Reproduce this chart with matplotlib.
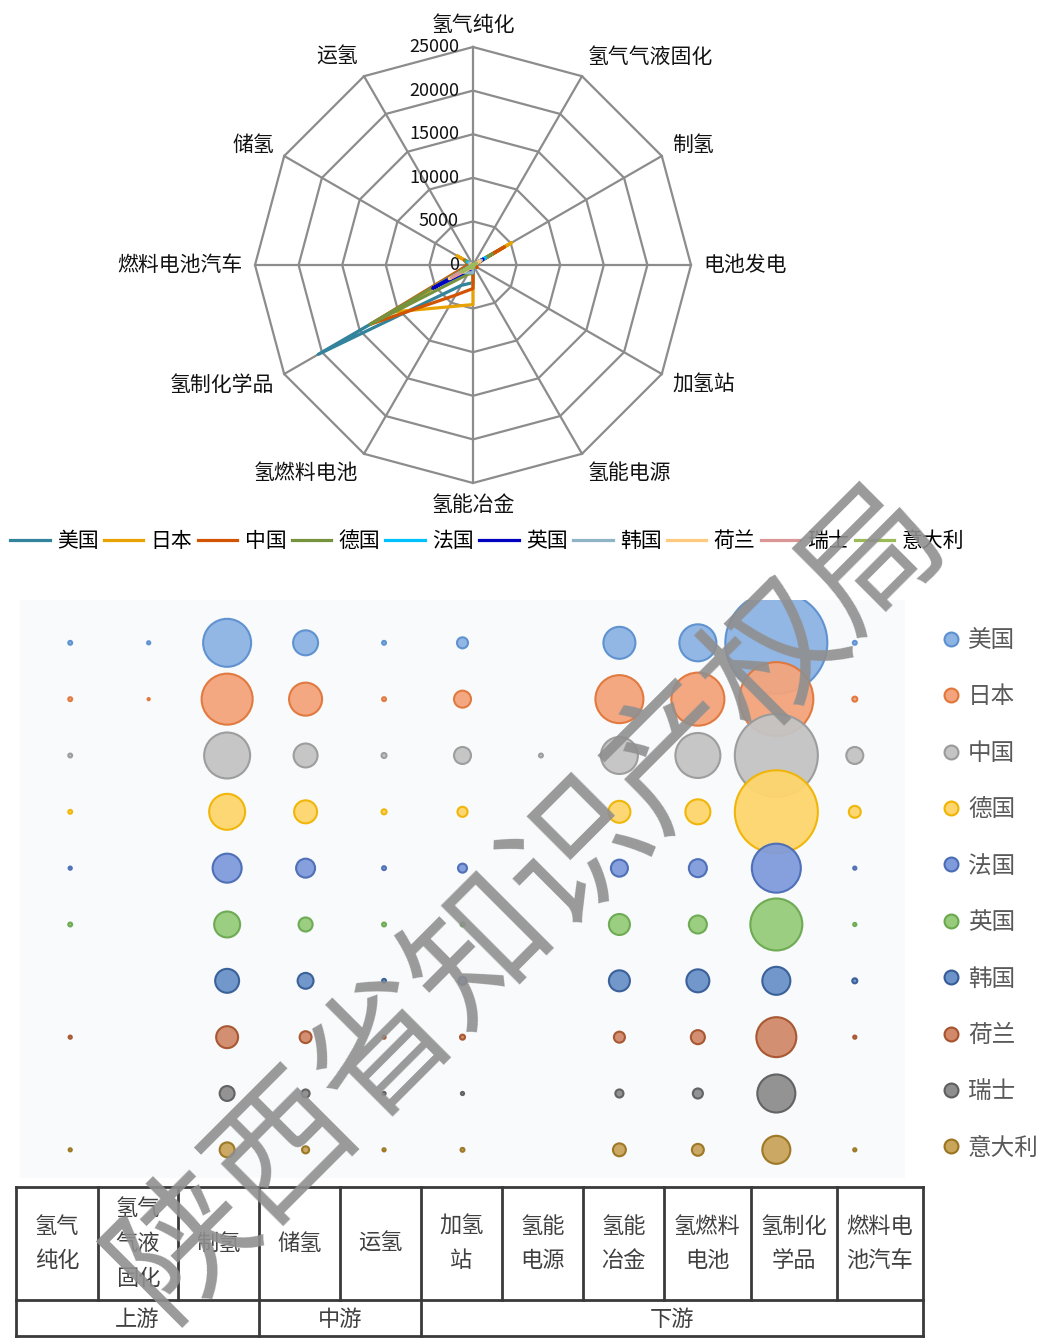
import numpy as np
import matplotlib
matplotlib.use("Agg")
import matplotlib.pyplot as plt
from matplotlib.lines import Line2D

plt.rcParams['font.family'] = ['Noto Sans CJK SC', 'DejaVu Sans']

# 雷达图的 12 个环节（顺时针，从正上方开始）
radar_cats = ["氢气纯化", "氢气气液固化", "制氢", "电池发电", "加氢站", "氢能电源",
              "氢能冶金", "氢燃料电池", "氢制化学品", "燃料电池汽车", "储氢", "运氢"]
# 气泡图 / 表格的 11 个环节
bubble_cats = ["氢气纯化", "氢气气液固化", "制氢", "储氢", "运氢", "加氢站",
               "氢能电源", "氢能冶金", "氢燃料电池", "氢制化学品", "燃料电池汽车"]

countries = ["美国", "日本", "中国", "德国", "法国", "英国", "韩国", "荷兰", "瑞士", "意大利"]

# 各国专利数量，按 radar_cats 顺序
us = [30, 20, 4540, 120, 240, 0, 2020, 2700, 20500, 30, 1230, 30]
jp = [30, 10, 5130, 150, 570, 0, 4540, 5540, 10790, 50, 2150, 30]
cn = [30, 0, 4170, 200, 570, 30, 2700, 3990, 13580, 570, 1130, 50]
de = [30, 0, 2550, 80, 200, 0, 950, 1230, 13580, 280, 1040, 50]
fr = [20, 0, 1660, 40, 160, 0, 570, 640, 4730, 20, 710, 30]
gb = [30, 0, 1330, 40, 30, 0, 870, 640, 5330, 20, 390, 30]
kr = [0, 0, 1130, 60, 130, 0, 870, 1040, 1550, 50, 500, 30]
nl = [20, 0, 950, 20, 50, 0, 240, 390, 3150, 20, 280, 20]
ch = [0, 0, 440, 20, 20, 0, 130, 200, 2850, 0, 130, 20]
it = [20, 0, 440, 20, 30, 0, 330, 280, 1550, 20, 100, 20]
series = [us, jp, cn, de, fr, gb, kr, nl, ch, it]

line_colors = ["#31849B", "#E8A202", "#D35400", "#76923C", "#00C0FF",
               "#0000C0", "#8FB4C6", "#FFC97F", "#D99694", "#9BBB59"]
bub_face = ["#8EB4E3", "#F4A47C", "#C4C4C4", "#FFD56E", "#7F9BDB",
            "#96CC7A", "#6B92C9", "#D18969", "#8E8E8E", "#C9A55C"]
bub_edge = ["#5B8FCF", "#E0763A", "#9A9A9A", "#F0B400", "#4A6BB5",
            "#6AA84F", "#355C96", "#A5532C", "#5E5E5E", "#9A7420"]

W, H = 1043, 1338
fig = plt.figure(figsize=(W / 100, H / 100), dpi=100)

# ---------------- 雷达图 ----------------
ax = fig.add_axes([255 / W, 1 - 483 / H, 436 / W, 436 / H], projection='polar')
ax.set_theta_zero_location('N')
ax.set_theta_direction(-1)
ax.set_ylim(0, 25000)
ax.grid(False)
ax.spines['polar'].set_visible(False)
ax.set_xticks([])
ax.set_yticks([])
ax.patch.set_alpha(0)

n = len(radar_cats)
angles = np.arange(n) * 2 * np.pi / n
closed = np.append(angles, angles[0])
levels = [5000, 10000, 15000, 20000, 25000]
for lv in levels:
    ax.plot(closed, [lv] * (n + 1), color="#8C8C8C", lw=1.6, zorder=1, clip_on=False)
for a in angles:
    ax.plot([a, a], [0, 25000], color="#8C8C8C", lw=1.6, zorder=1, clip_on=False)
for lv in [0] + levels:
    ax.annotate(str(lv), xy=(0, lv), xytext=(-14, 0), textcoords='offset pixels',
                ha='right', va='center', fontsize=13, color="#111111")
for a, lab in zip(angles, radar_cats):
    s, c = np.sin(a), np.cos(a)
    ha = 'left' if s > 0.01 else ('right' if s < -0.01 else 'center')
    ax.annotate(lab, xy=(a, 25000), xytext=(12 * s, 22 * c), textcoords='offset pixels',
                ha=ha, va='center', fontsize=15, color="#111111", annotation_clip=False)

handles = []
for i, (name, vals) in enumerate(zip(countries, series)):
    ln, = ax.plot(closed, vals + [vals[0]], color=line_colors[i], lw=2.3,
                  zorder=3 + i, label=name, clip_on=False)
    handles.append(ln)

fig.legend(handles, countries, loc='center', bbox_to_anchor=(487 / W, 1 - 541 / H),
           ncol=10, frameon=False, fontsize=15, handlelength=1.9, handletextpad=0.35,
           columnspacing=0.25, borderpad=0, borderaxespad=0)

# ---------------- 气泡图 ----------------
bx = fig.add_axes([20 / W, 1 - 1178 / H, 885 / W, 578 / H])
bx.set_facecolor("#F8FAFC")
for sp in bx.spines.values():
    sp.set_visible(False)
bx.set_xticks([])
bx.set_yticks([])
bx.set_xlim(-0.64, 10.64)
bx.set_ylim(9.5, -0.76)

# 气泡图列顺序对应 radar_cats 中的下标
col_idx = [radar_cats.index(c) for c in bubble_cats]
size_k = (0.72 * 102) ** 2 / 20500
xs = np.arange(len(bubble_cats))
for i, vals in enumerate(series):
    v = np.array([vals[j] for j in col_idx], dtype=float)
    bx.scatter(xs, np.full(len(xs), i), s=v * size_k, c=bub_face[i],
               edgecolors=bub_edge[i], linewidths=1.5, alpha=0.95, zorder=2 + i)

leg_handles = [Line2D([], [], ls='none', marker='o', markersize=10,
                      markerfacecolor=bub_face[i], markeredgecolor=bub_edge[i],
                      markeredgewidth=1.5) for i in range(len(countries))]
fig.legend(leg_handles, countries, loc='upper left', bbox_to_anchor=(942 / W, 1 - 629 / H),
           frameon=False, fontsize=17, labelcolor="#595959", handlelength=0.8,
           handletextpad=0.3, labelspacing=1.415, borderpad=0, borderaxespad=0)

# ---------------- 产业链表格 ----------------
tx = fig.add_axes([0, 0, 1, 160 / H])
tx.set_xlim(0, W)
tx.set_ylim(H, H - 160)
tx.axis('off')

table_labels = ["氢气\n纯化", "氢气\n气液\n固化", "制氢", "储氢", "运氢", "加氢\n站",
                "氢能\n电源", "氢能\n冶金", "氢燃料\n电池", "氢制化\n学品", "燃料电\n池汽车"]
stages = ["上游", "中游", "下游"]
stage_span = [(0, 3), (3, 5), (5, 11)]

edges = [16, 98, 178, 259, 340, 421, 502, 583, 664, 751, 837, 923]
top, mid, bot = 1187, 1300, 1336
lc = "#3A3A3A"
tx.plot([edges[0], edges[-1]], [top, top], color=lc, lw=2)
tx.plot([edges[0], edges[-1]], [mid, mid], color=lc, lw=2)
tx.plot([edges[0], edges[-1]], [bot, bot], color=lc, lw=2)
for k, e in enumerate(edges):
    y1 = bot if (k in (0, 3, 5, 11)) else mid
    tx.plot([e, e], [top, y1], color=lc, lw=2)
for k, lab in enumerate(table_labels):
    tx.text((edges[k] + edges[k + 1]) / 2, (top + mid) / 2, lab, ha='center', va='center',
            fontsize=16, color="#404040", linespacing=1.65)
for lab, (a, b) in zip(stages, stage_span):
    tx.text((edges[a] + edges[b]) / 2, (mid + bot) / 2 + 1, lab, ha='center', va='center',
            fontsize=16, color="#404040")

# 水印
fig.text(530 / W, 1 - 900 / H, "陕西省知识产权局", rotation=45, fontsize=100,
         fontweight='light', color="#8F8F8F", alpha=0.9, ha='center', va='center',
         zorder=20)

fig.savefig("out.png", dpi=100, facecolor="white")
